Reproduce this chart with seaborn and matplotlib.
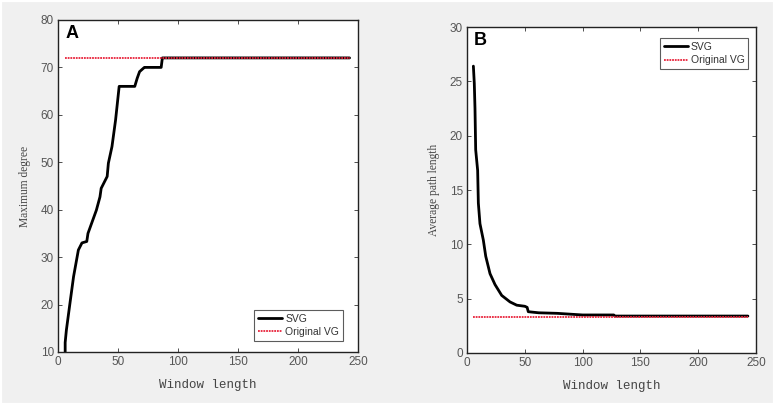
import matplotlib
matplotlib.use("Agg")
import matplotlib.pyplot as plt
import seaborn as sns
import pandas as pd
from matplotlib.patches import Rectangle

# ---------------- data ----------------
a_svg_x = [6, 6, 7, 10, 13, 17, 20, 24, 25, 28, 32, 35, 36, 41, 42, 45, 48, 51, 64, 66, 68, 72, 73, 86, 87, 243]
a_svg_y = [10, 12, 14.6, 20.3, 25.9, 31.5, 33, 33.3, 35, 37.1, 39.9, 42.7, 44.5, 47, 49.8, 53.3, 58.9, 66,
           66, 67.7, 69.1, 70, 70, 70, 72, 72]
a_vg_x = [6, 243]
a_vg_y = [72, 72]

b_svg_x = [5.5, 6.3, 6.9, 7.5, 9.2, 9.8, 11.2, 14.1, 16.2, 19.9, 24.2, 30, 37.2, 43, 50, 52, 53, 62, 78,
           100, 127, 128, 243]
b_svg_y = [26.4, 24.8, 22.5, 18.7, 16.8, 13.8, 11.9, 10.4, 8.9, 7.3, 6.3, 5.3, 4.7, 4.4, 4.3, 4.2, 3.8,
           3.7, 3.65, 3.5, 3.5, 3.4, 3.4]
b_vg_x = [5, 243]
b_vg_y = [3.3, 3.3]

x_ticks = [0, 50, 100, 150, 200, 250]
a_y_ticks = [10, 20, 30, 40, 50, 60, 70, 80]
b_y_ticks = [0, 5, 10, 15, 20, 25, 30]
series_labels = ["SVG", "Original VG"]
panel_labels = ["A", "B"]
x_label = "Window length"
y_labels = ["Maximum degree", "Average path length"]

# ---------------- style ----------------
sns.set_theme(style="white")
plt.rcParams["font.family"] = ["Liberation Sans", "DejaVu Sans"]

bg = "#f0f0f0"
fig = plt.figure(figsize=(7.75, 4.05), dpi=100, facecolor=bg)
fig.patches.append(Rectangle((0, 0), 1, 1, transform=fig.transFigure, fill=False,
                             edgecolor="white", linewidth=3, zorder=10))

ax_a = fig.add_axes([0.0748, 0.1309, 0.3871, 0.8198])
ax_b = fig.add_axes([0.6026, 0.1284, 0.3729, 0.8049])


def draw(ax, sx, sy, vx, vy, yticks, ylab, panel, leg_loc, leg_anchor):
    df_s = pd.DataFrame({"x": sx, "y": sy})
    df_v = pd.DataFrame({"x": vx, "y": vy})
    sns.lineplot(data=df_s, x="x", y="y", ax=ax, color="black", linewidth=2.0,
                 sort=False, estimator=None, label=series_labels[0])
    sns.lineplot(data=df_v, x="x", y="y", ax=ax, color="#e8223a", linewidth=1.3,
                 linestyle=(0, (1.0, 0.5)), sort=False, estimator=None, label=series_labels[1])
    ax.set_facecolor("white")
    ax.set_xlim(0, 250)
    ax.set_ylim(yticks[0], yticks[-1])
    ax.set_xticks(x_ticks)
    ax.set_yticks(yticks)
    ax.tick_params(axis="both", which="both", direction="in", length=3, width=0.6,
                   top=True, right=True, bottom=True, left=True,
                   labelsize=8.5, labelcolor="#555555", color="#333333", pad=3)
    for s in ax.spines.values():
        s.set_color("#222222")
        s.set_linewidth(1.0)
    ax.set_xlabel(x_label, family="Liberation Mono", fontsize=9, color="#444444", labelpad=8)
    ax.set_ylabel(ylab, family="Liberation Serif", fontsize=8.3, color="#444444", labelpad=7)
    ax.text(0.025, 0.985, panel, transform=ax.transAxes, ha="left", va="top",
            fontsize=13, fontweight="bold", color="black")
    leg = ax.legend(loc=leg_loc, bbox_to_anchor=leg_anchor, fontsize=7.5, frameon=True,
                    fancybox=False, handlelength=2.3, handletextpad=0.3, borderpad=0.35,
                    labelspacing=0.3, borderaxespad=0)
    leg.get_frame().set_edgecolor("#333333")
    leg.get_frame().set_linewidth(0.8)
    for t in leg.get_texts():
        t.set_color("#333333")


draw(ax_a, a_svg_x, a_svg_y, a_vg_x, a_vg_y, a_y_ticks, y_labels[0], panel_labels[0],
     "lower right", (0.949, 0.034))
draw(ax_b, b_svg_x, b_svg_y, b_vg_x, b_vg_y, b_y_ticks, y_labels[1], panel_labels[1],
     "upper right", (0.973, 0.965))

fig.savefig("out.png", dpi=100, facecolor=bg)
